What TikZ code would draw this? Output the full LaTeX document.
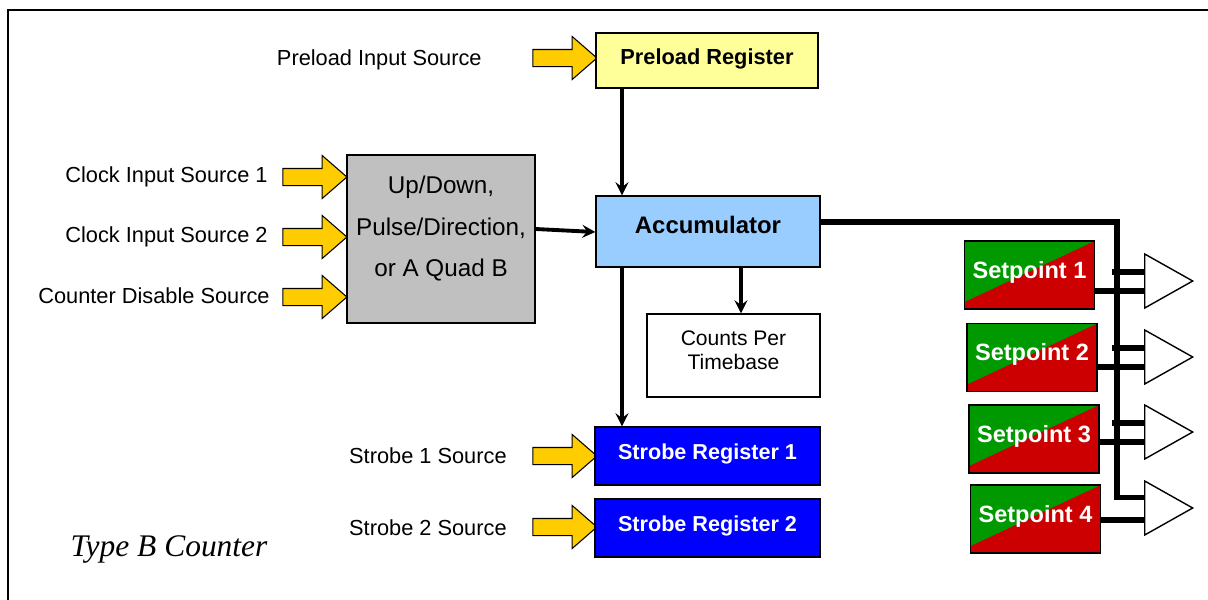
\documentclass[tikz,border=0pt]{standalone}
\usepackage{fontspec}
\setmainfont{Liberation Sans}
\newfontfamily\captionfont{Liberation Serif}
\usetikzlibrary{shapes.arrows,shapes.geometric}

\definecolor{srcYellow}{HTML}{FFCC00}
\definecolor{preYellow}{HTML}{FFFF99}
\definecolor{accBlue}{HTML}{99CCFF}
\definecolor{udGray}{HTML}{C0C0C0}
\definecolor{strBlue}{HTML}{0000FF}
\definecolor{spGreen}{HTML}{009900}
\definecolor{spRed}{HTML}{CC0000}

\begin{document}
\begin{tikzpicture}
[x=0.02cm,y=-0.02cm,%
  every node/.style={inner sep=0pt},%
  lbl/.style={anchor=east,font=\fontsize{12.4}{15}\selectfont},%
  srcarrow/.style={single arrow,draw,line width=0.6pt,fill=srcYellow,
    inner xsep=0pt,inner ysep=0.16cm,minimum height=1.28cm,
    single arrow head extend=0.26cm,single arrow tip angle=82},%
  regbox/.style={draw,line width=0.8pt,minimum width=4.48cm},%
  setbox/.style={draw,line width=0.8pt,fill=spRed,text=white,
    minimum width=2.6cm,minimum height=1.36cm,text depth=6pt,
    font=\bfseries\fontsize{13.4}{16}\selectfont,
    path picture={\fill[spGreen] (path picture bounding box.north west)
      -- (path picture bounding box.north east)
      -- ([yshift=0.14cm]path picture bounding box.south west) -- cycle;}},%
  cmp/.style={isosceles triangle,draw,line width=0.8pt,fill=white,
    isosceles triangle stretches,minimum width=1.08cm,minimum height=0.96cm},%
  flow/.style={->,>=stealth,line width=2.2pt},%
  bus/.style={line width=3pt}]
\useasboundingbox (0,0) rectangle (1208,599);
\draw[line width=1.1pt] (8,640) -- (8,10) -- (1240,10);
%% inputs
\node[lbl] (lblPre) at (482,60) {Preload Input Source};
\node[lbl] (lblClk1) at (268,177) {Clock Input Source 1};
\node[lbl] (lblClk2) at (268,237) {Clock Input Source 2};
\node[lbl] (lblDis) at (270,296) {Counter Disable Source};
\node[lbl] (lblStr1) at (507,456) {Strobe 1 Source};
\node[lbl] (lblStr2) at (507,528) {Strobe 2 Source};
\node[srcarrow] (srcPre) at (560,58) {};
\node[srcarrow] (srcClk1) at (310,177) {};
\node[srcarrow] (srcClk2) at (310,237) {};
\node[srcarrow] (srcDis) at (310,297) {};
\node[srcarrow] (srcStr1) at (560,456) {};
\node[srcarrow] (srcStr2) at (560,527) {};
%% registers
\node[regbox,fill=preYellow,minimum width=4.44cm,minimum height=1.1cm,
  text depth=5pt,font=\bfseries\fontsize{12.4}{15}\selectfont]
  (pre) at (707,60.5) {Preload Register};
\node[regbox,fill=accBlue,minimum height=1.42cm,text depth=7.4pt,
  font=\bfseries\fontsize{13.6}{16}\selectfont]
  (acc) at (708,231.5) {Accumulator};
\node[regbox,fill=udGray,minimum width=3.76cm,minimum height=3.36cm,
  label={[align=center,yshift=0.21cm,font=\fontsize{13.8}{23.8}\selectfont]center:{Up/Down,\\Pulse/Direction,\\or A Quad B}}]
  (ud) at (441,239) {};
\node[regbox,fill=white,minimum width=3.46cm,minimum height=1.66cm,
  label={[align=center,yshift=0.11cm,font=\fontsize{12}{13.6}\selectfont]center:{Counts Per\\Timebase}}]
  (cpt) at (733.5,355.5) {};
\node[regbox,fill=strBlue,minimum width=4.5cm,minimum height=1.16cm,text=white,
  text depth=5pt,font=\bfseries\fontsize{12.3}{15}\selectfont]
  (str1) at (707.5,456) {Strobe Register 1};
\node[regbox,fill=strBlue,minimum width=4.5cm,minimum height=1.16cm,text=white,
  text depth=5pt,font=\bfseries\fontsize{12.3}{15}\selectfont]
  (str2) at (707.5,528) {Strobe Register 2};
%% setpoints and comparators
\node[setbox] (sp1) at (1029.5,275) {Setpoint 1};
\node[setbox] (sp2) at (1032,357.5) {Setpoint 2};
\node[setbox] (sp3) at (1034,439) {Setpoint 3};
\node[setbox] (sp4) at (1035.5,519) {Setpoint 4};
\node[cmp,anchor=west] (cmp1) at (1144,281) {};
\node[cmp,anchor=west] (cmp2) at (1144,357) {};
\node[cmp,anchor=west] (cmp3) at (1144,432) {};
\node[cmp,anchor=west] (cmp4) at (1144,508) {};
\node[font=\captionfont\itshape\fontsize{17.9}{20}\selectfont]
  (title) at (169,549) {Type B Counter};
%% connections
\coordinate (colL) at (622,0);
\coordinate (colR) at (741,0);
\coordinate (busB) at (1117,497.5);
\draw[flow] (pre.south -| colL) -- (acc.north -| colL);
\draw[flow] (ud.east |- 0,229) -- (acc.west |- 0,232);
\draw[flow] (acc.south -| colR) -- (cpt.north -| colR);
\draw[flow] (acc.south -| colL) -- (str1.north -| colL);
\draw[bus] (acc.east |- 0,222) -| (busB) -- (cmp4.west |- busB);
\foreach \n/\c in {1/281, 2/357, 3/432}
{
  \draw[bus] (cmp\n.west |- 0,\c-9) -- ++(-32,0);
  \draw[bus] (sp\n.east |- 0,\c+10) -- (cmp\n.west |- 0,\c+10);
};
\draw[bus] (sp4.east |- 0,520) -- (cmp4.west |- 0,520);
\end{tikzpicture}
\end{document}
